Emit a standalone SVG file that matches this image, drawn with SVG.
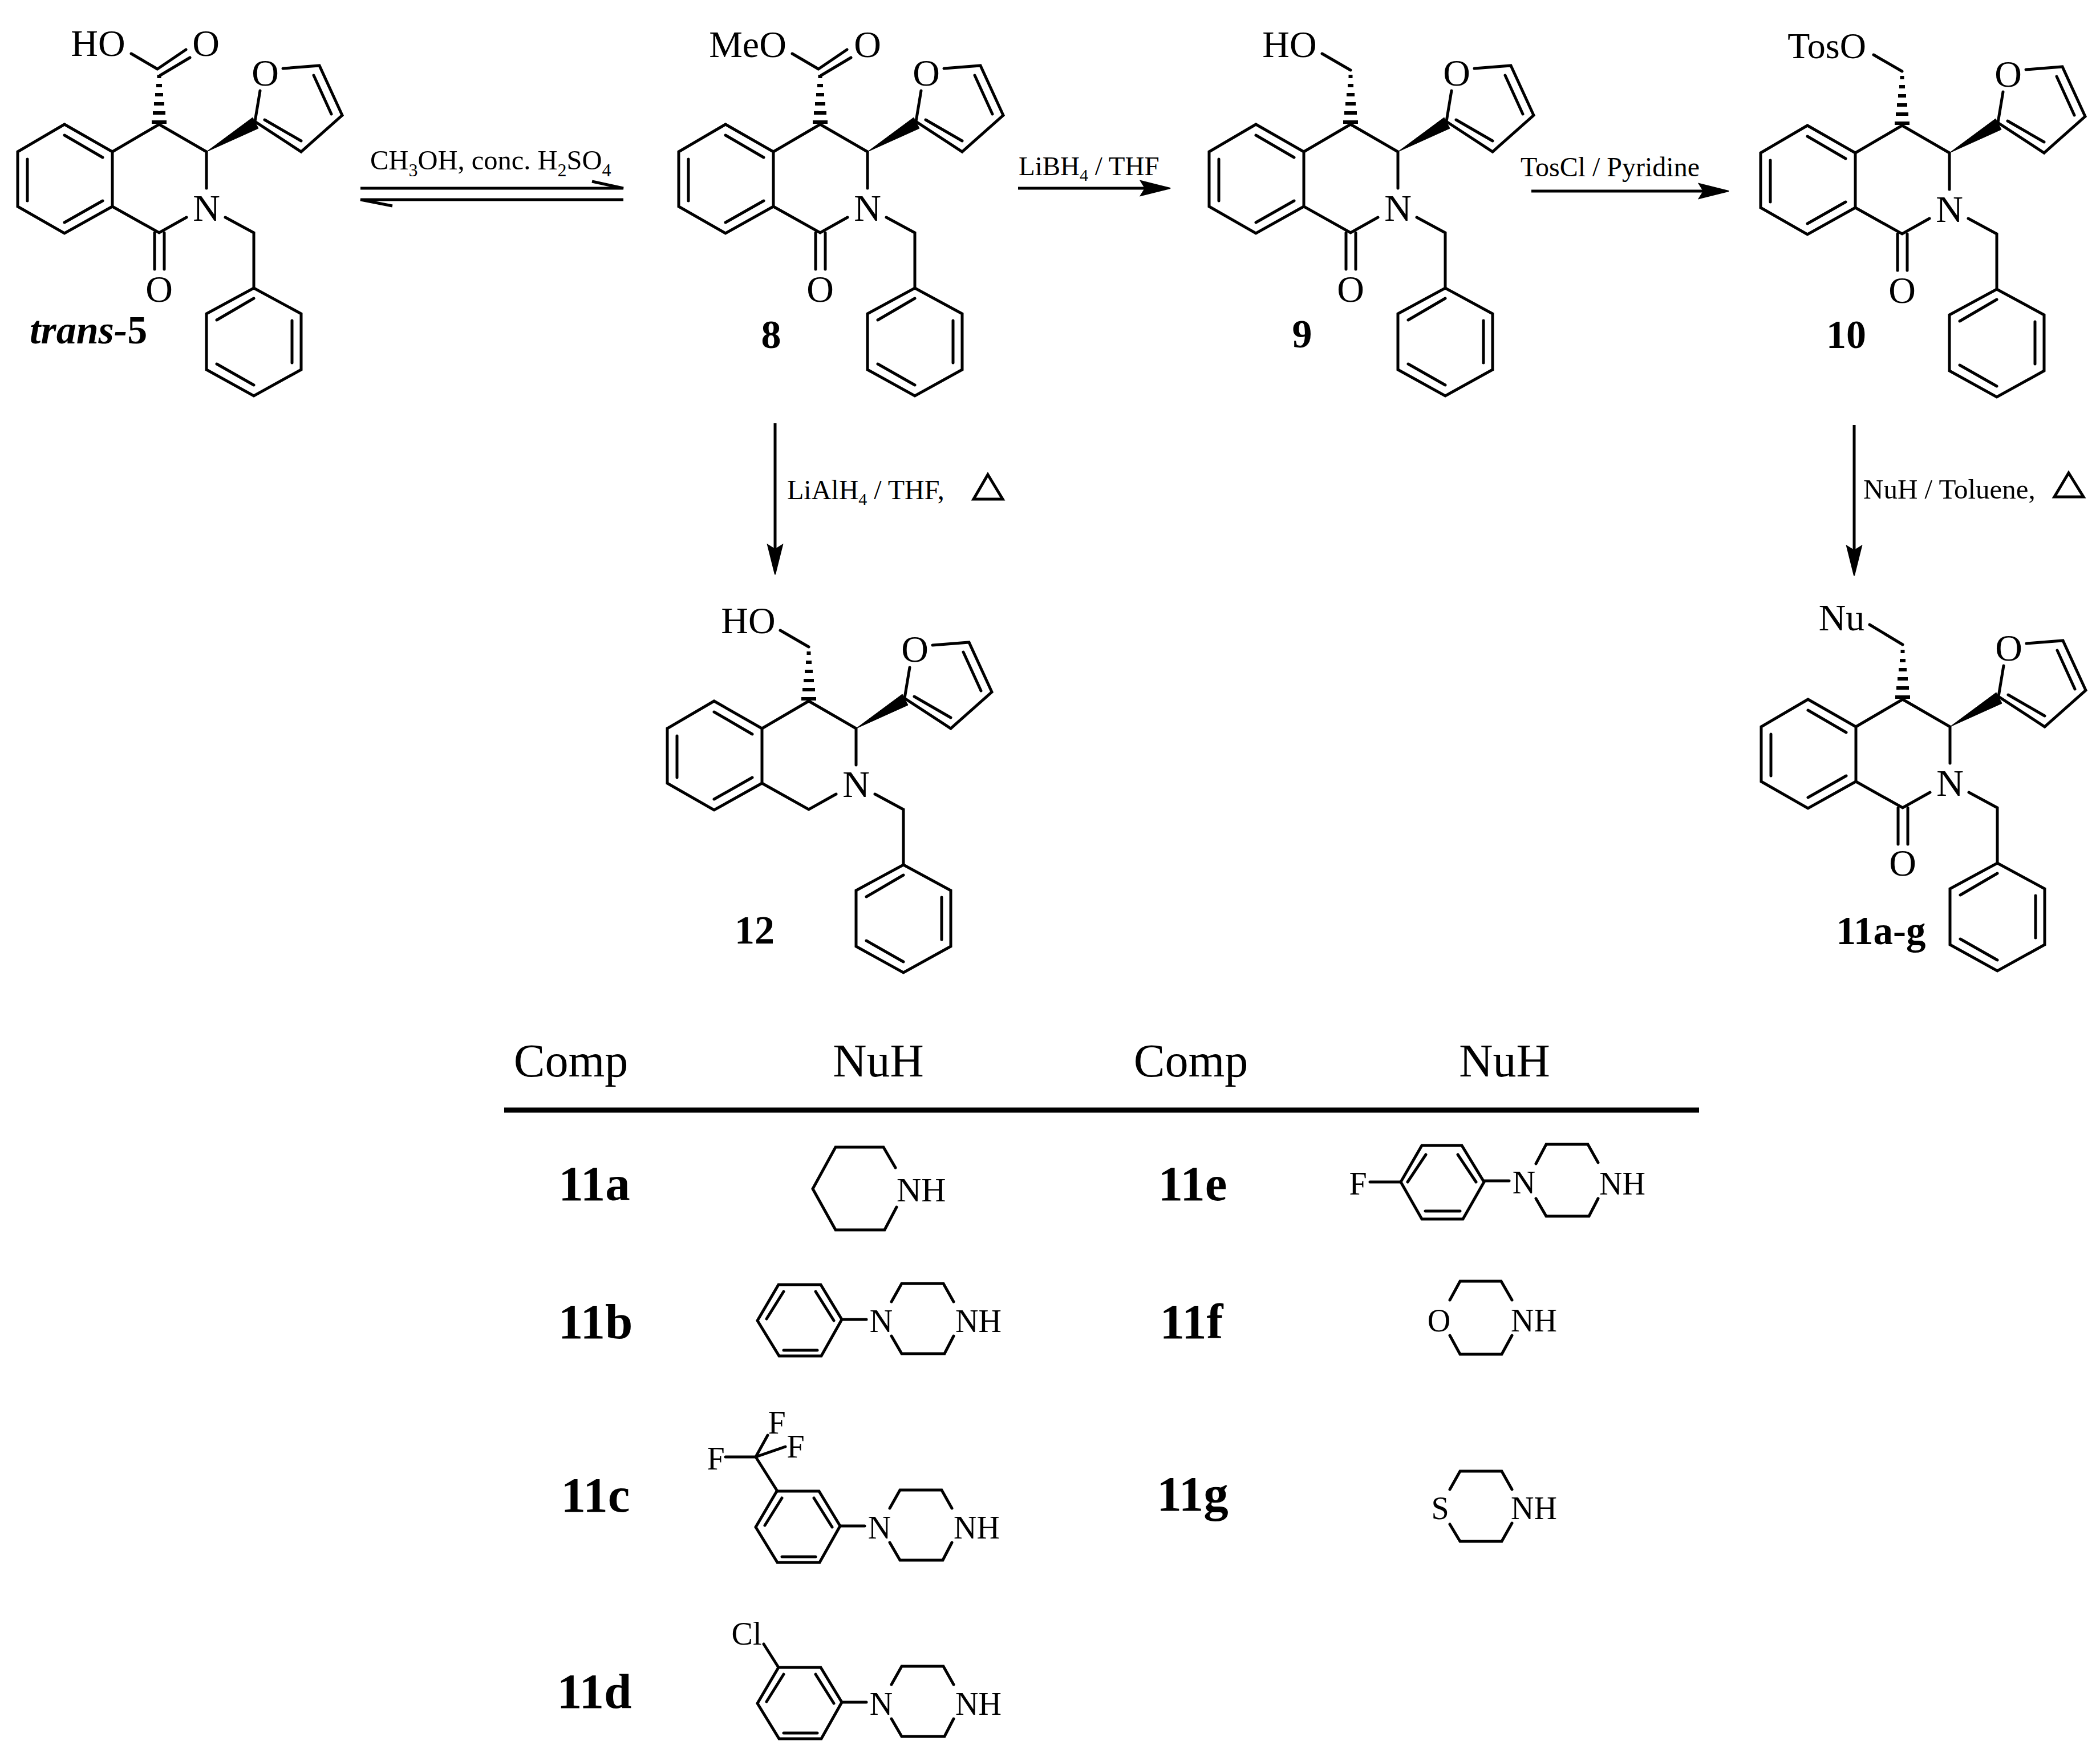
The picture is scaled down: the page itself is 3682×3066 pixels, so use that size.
<svg xmlns="http://www.w3.org/2000/svg" xmlns:xlink="http://www.w3.org/1999/xlink" width="3682" height="3066" viewBox="0 0 3682 3066">
<style>
text{font-family:"Liberation Serif","Times New Roman",serif;fill:#000}
.b{fill:none;stroke:#000;stroke-width:5;stroke-linecap:round;stroke-linejoin:miter}
.w{fill:#000;stroke:#000;stroke-width:1}
.h{stroke:#000;stroke-width:6;fill:none}
.a{font-size:66px;text-anchor:middle}
.s{font-size:56px;text-anchor:middle}
.n{font-size:56px}
.l{font-size:70px;font-weight:bold;text-anchor:middle}
.c{font-size:87px;font-weight:bold;text-anchor:middle}
.hd{font-size:82px;text-anchor:middle}
.r{fill:none;stroke:#000;stroke-width:5}
.tri{fill:none;stroke:#000;stroke-width:5;stroke-linejoin:miter}
</style>
<defs>
<marker id="arrow" viewBox="-2 -2 56 30" refX="8" refY="13" markerWidth="56" markerHeight="30" orient="auto" markerUnits="userSpaceOnUse"><path d="M0,0 L52,13 L0,26 L8,13 Z" fill="#000" stroke="#000" stroke-width="2"/></marker>
<g id="core">
<path class="b" d="M-166,0 L-248,48 L-248,144 L-166,191 L-82,144 L-82,48 Z"/>
<path class="b" d="M-166,19 L-99,58 M-231,61 L-231,134 M-166,172 L-99,134"/>
<path class="b" d="M-82,48 L0,0 L83,48 L83,112 M-82,144 L0,190 L48,163 M116,163 L166,190 L166,287"/>
<path class="b" d="M166,287 L249,332 L249,430 L166,476 L83,430 L83,332 Z"/>
<path class="b" d="M166,305 L101,343 M233,344 L233,418 M166,457 L101,420"/>
<path class="b" d="M177,-59 L168,-5 L249,48 L321,-16 L281,-103 L217,-98 M271,-86 L302,-18 M185,-8 L249,29"/>
<polygon class="w" points="83,48 164,-12 174,7"/>
<path class="h" d="M-13,-4 H13 M-11,-20 H11 M-9,-36 H9 M-7,-52 H7 M-5,-68 H5 M-3.5,-84 H3.5"/>
</g>
<path id="co" class="b" d="M-8,190 V254 M9,190 V254"/>
<path id="ester" class="b" d="M-49,-124 L-3,-97 M-3,-97 L47,-131 M2,-86 L54,-117"/>
<g id="pp">
<path class="b" d="M1365,2252 L1439,2252 L1476,2313 L1440,2377 L1366,2377 L1328,2315 Z"/>
<path class="b" d="M1344,2312 L1374,2264 M1430,2264 L1462,2315 M1374,2367 L1433,2367 M1476,2313 L1519,2313"/>
<path class="b" d="M1563,2282 L1581,2250 L1654,2250 L1672,2282 M1672,2342 L1656,2373 L1581,2373 L1563,2342"/>
</g>
</defs>
<rect width="3682" height="3066" fill="#fff"/>

<g id="connectors">
<path class="r" d="M632,330 H1093 L1038,318"/>
<path class="r" d="M1093,350 H632 L688,361"/>
<line class="r" x1="1785" y1="330" x2="2008" y2="330" marker-end="url(#arrow)"/>
<line class="r" x1="2685" y1="335" x2="2987" y2="335" marker-end="url(#arrow)"/>
<line class="r" x1="1359" y1="742" x2="1359" y2="963" marker-end="url(#arrow)"/>
<line class="r" x1="3251" y1="745" x2="3251" y2="965" marker-end="url(#arrow)"/>
</g>

<g id="conditions">
<text x="649" y="297" font-size="48.5">CH<tspan font-size="32" dy="12">3</tspan><tspan dy="-12">OH, conc. H</tspan><tspan font-size="32" dy="12">2</tspan><tspan dy="-12">SO</tspan><tspan font-size="32" dy="12">4</tspan></text>
<text x="1786" y="307" font-size="47">LiBH<tspan font-size="30" dy="10">4</tspan><tspan dy="-10"> / THF</tspan></text>
<text x="2666" y="309" font-size="48">TosCl / Pyridine</text>
<text x="1380" y="875" font-size="48">LiAlH<tspan font-size="30" dy="10">4</tspan><tspan dy="-10"> / THF,</tspan></text>
<polygon class="tri" points="1732,832 1758,875 1707,875"/>
<text x="3267" y="874" font-size="49">NuH / Toluene,</text>
<polygon class="tri" points="3627,829 3653,871 3602,871"/>
</g>

<g id="trans-5">
<use xlink:href="#core" href="#core" x="279" y="218"/>
<use xlink:href="#co" href="#co" x="279" y="218"/>
<use xlink:href="#ester" href="#ester" x="279" y="218"/>
<text class="a" x="172" y="98">HO</text><text class="a" x="361" y="98">O</text>
<text class="a" x="362" y="387">N</text><text class="a" x="465" y="150">O</text><text class="a" x="279" y="529">O</text>
<text x="52" y="602" font-size="70" font-weight="bold" font-style="italic">trans-<tspan font-style="normal">5</tspan></text>
</g>

<g id="mol-8">
<use xlink:href="#core" href="#core" x="1438" y="218"/>
<use xlink:href="#co" href="#co" x="1438" y="218"/>
<use xlink:href="#ester" href="#ester" x="1438" y="218"/>
<text class="a" x="1311" y="100">MeO</text><text class="a" x="1521" y="100">O</text>
<text class="a" x="1521" y="387">N</text><text class="a" x="1624" y="150">O</text><text class="a" x="1438" y="529">O</text>
<text class="l" x="1352" y="610">8</text>
</g>

<g id="mol-9">
<use xlink:href="#core" href="#core" x="2368" y="218"/>
<use xlink:href="#co" href="#co" x="2368" y="218"/>
<path class="b" d="M2318,94 L2368,123"/>
<text class="a" x="2261" y="100">HO</text>
<text class="a" x="2451" y="387">N</text><text class="a" x="2554" y="150">O</text><text class="a" x="2368" y="529">O</text>
<text class="l" x="2283" y="609">9</text>
</g>

<g id="mol-10">
<use xlink:href="#core" href="#core" x="3335" y="220"/>
<use xlink:href="#co" href="#co" x="3335" y="220"/>
<path class="b" d="M3285,96 L3335,125"/>
<text class="a" x="3203" y="102" style="font-size:64px">TosO</text>
<text class="a" x="3418" y="389">N</text><text class="a" x="3521" y="152">O</text><text class="a" x="3335" y="531">O</text>
<text class="l" x="3237" y="610">10</text>
</g>

<g id="mol-12">
<use xlink:href="#core" href="#core" x="1418" y="1229"/>
<path class="b" d="M1368,1105 L1418,1134"/>
<text class="a" x="1312" y="1110">HO</text>
<text class="a" x="1501" y="1397">N</text><text class="a" x="1604" y="1160">O</text>
<text class="l" x="1323" y="1654">12</text>
</g>

<g id="mol-11">
<use xlink:href="#core" href="#core" x="3336" y="1226"/>
<use xlink:href="#co" href="#co" x="3336" y="1226"/>
<path class="b" d="M3278,1095 L3336,1130"/>
<text class="a" x="3229" y="1105">Nu</text>
<text class="a" x="3419" y="1395">N</text><text class="a" x="3522" y="1158">O</text><text class="a" x="3336" y="1535">O</text>
<text class="l" x="3298" y="1655" style="font-size:69px">11a-g</text>
</g>

<g id="table-head">
<text class="hd" x="1001" y="1887">Comp</text><text class="hd" x="1540" y="1887">NuH</text>
<text class="hd" x="2088" y="1887">Comp</text><text class="hd" x="2638" y="1887">NuH</text>
<line x1="884" y1="1946" x2="2979" y2="1946" stroke="#000" stroke-width="9"/>
</g>

<g id="row-11a">
<text class="c" x="1042" y="2104">11a</text>
<path class="b" d="M1570,2047 L1549,2011 L1465,2011 L1425,2084 L1465,2156 L1551,2156 L1572,2116"/>
<text class="n" x="1572" y="2106" style="font-size:60px">NH</text>
</g>
<g id="row-11b">
<text class="c" x="1044" y="2346">11b</text>
<use xlink:href="#pp" href="#pp"/>
<text class="s" x="1545" y="2335">N</text><text class="n" x="1675" y="2335">NH</text>
</g>
<g id="row-11c">
<text class="c" x="1044" y="2650">11c</text>
<use xlink:href="#pp" href="#pp" x="-3" y="362"/>
<text class="s" x="1542" y="2697">N</text><text class="n" x="1672" y="2697">NH</text>
<path class="b" d="M1363,2614 L1325,2554 L1272,2554 M1325,2554 L1346,2516 M1325,2554 L1377,2536"/>
<text class="s" x="1255" y="2576">F</text><text class="s" x="1362" y="2513">F</text><text class="s" x="1395" y="2555">F</text>
</g>
<g id="row-11d">
<text class="c" x="1042" y="2994">11d</text>
<use xlink:href="#pp" href="#pp" y="671"/>
<text class="s" x="1545" y="3006">N</text><text class="n" x="1675" y="3006">NH</text>
<path class="b" d="M1365,2923 L1339,2882"/>
<text class="s" x="1309" y="2883">Cl</text>
</g>
<g id="row-11e">
<text class="c" x="2091" y="2104">11e</text>
<path class="b" d="M2493,2008 L2563,2008 L2602,2072 L2565,2137 L2493,2137 L2456,2072 Z"/>
<path class="b" d="M2468,2072 L2500,2024 M2556,2024 L2588,2072 M2499,2123 L2560,2123 M2402,2072 L2456,2072 M2602,2070 L2646,2070"/>
<path class="b" d="M2693,2040 L2711,2006 L2784,2006 L2802,2038 M2802,2101 L2786,2132 L2711,2132 L2693,2101"/>
<text class="s" x="2381" y="2094">F</text><text class="s" x="2672" y="2092">N</text><text class="n" x="2804" y="2094">NH</text>
</g>
<g id="row-11f">
<text class="c" x="2089" y="2346">11f</text>
<path class="b" d="M2542,2279 L2560,2246 L2632,2246 L2651,2279 M2651,2341 L2633,2374 L2560,2374 L2542,2341"/>
<text class="s" x="2523" y="2334">O</text><text class="n" x="2649" y="2334">NH</text>
</g>
<g id="row-11g">
<text class="c" x="2091" y="2648">11g</text>
<path class="b" d="M2542,2611 L2560,2579 L2633,2579 L2651,2611 M2651,2670 L2633,2702 L2560,2702 L2542,2672"/>
<text class="s" x="2525" y="2663">S</text><text class="n" x="2649" y="2663">NH</text>
</g>
</svg>
